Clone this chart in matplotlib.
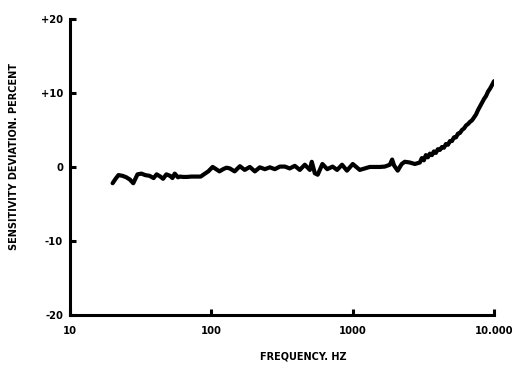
import matplotlib
matplotlib.use("Agg")
import matplotlib.pyplot as plt
import numpy as np

# Frequencia (Hz) e desvio de sensibilidade (%).
freq = [20, 21, 22, 23.5, 25, 26.5, 28, 30, 32, 34, 36.5, 39, 41, 43.5, 45.5,
        48, 51, 53, 55, 58, 60, 63, 67, 72, 78, 84, 90, 95, 102, 108, 114,
        121, 128, 135, 146, 159, 172, 187, 203, 220, 239, 259, 281, 305, 331,
        358, 389, 422, 458, 497, 513, 539, 565, 610, 660, 720, 775, 840, 910,
        1000, 1121, 1217, 1320, 1432, 1554, 1686, 1829, 1900, 1960, 2080,
        2220, 2336, 2535, 2750, 2983, 3082, 3185, 3291, 3400, 3513, 3630,
        3751, 3875, 4004, 4137, 4275, 4417, 4564, 4716, 4872, 5034, 5202,
        5375, 5553, 5738, 5929, 6126, 6330, 6540, 6758, 6982, 7215, 7454,
        7702, 7958, 8223, 8496, 8779, 9070, 9372, 9684, 10000]
deviation = [-2.2, -1.6, -1.1, -1.2, -1.4, -1.7, -2.2, -1.0, -0.9, -1.1, -1.2,
             -1.5, -1.0, -1.3, -1.6, -1.0, -1.2, -1.5, -0.9, -1.4, -1.3,
             -1.35, -1.35, -1.3, -1.3, -1.3, -0.9, -0.6, 0.0, -0.3, -0.6,
             -0.3, -0.1, -0.2, -0.6, 0.1, -0.4, 0.0, -0.6, -0.05, -0.3, -0.05,
             -0.3, 0.05, 0.05, -0.2, 0.15, -0.4, 0.3, -0.4, 0.7, -0.85, -1.05,
             0.4, -0.3, 0.05, -0.4, 0.3, -0.5, 0.4, -0.4, -0.2, 0.0, 0.0, 0.0,
             0.05, 0.3, 1.0, 0.2, -0.5, 0.4, 0.7, 0.6, 0.4, 0.6, 1.2, 0.9,
             1.6, 1.3, 1.8, 1.6, 2.1, 1.9, 2.4, 2.3, 2.7, 2.6, 3.1, 3.0, 3.5,
             3.5, 4.0, 4.0, 4.5, 4.6, 5.0, 5.2, 5.6, 5.8, 6.1, 6.3, 6.7, 7.1,
             7.7, 8.2, 8.7, 9.2, 9.6, 10.2, 10.6, 11.1, 11.6]

xticks = [10, 100, 1000, 10000]
xtick_labels = ["10", "100", "1000", "10.000"]
yticks = [-20, -10, 0, 10, 20]
ytick_labels = ["-20", "-10", "0", "+10", "+20"]

fig = plt.figure(figsize=(5.19, 3.79), dpi=100)
ax = fig.add_axes([0.135, 0.169, 0.817, 0.781])

ax.plot(freq, deviation, color="black", linewidth=3.0,
        solid_joinstyle="round", solid_capstyle="round")

ax.set_xscale("log")
ax.set_xlim(10, 10000)
ax.set_ylim(-20, 20)
ax.set_xticks(xticks)
ax.set_xticklabels(xtick_labels)
ax.set_yticks(yticks)
ax.set_yticklabels(ytick_labels)
ax.minorticks_off()

for s in ["top", "right"]:
    ax.spines[s].set_visible(False)
for s in ["left", "bottom"]:
    ax.spines[s].set_linewidth(2.2)

fonte = dict(family="DejaVu Sans", weight="bold", size=7)
ax.tick_params(direction="in", length=4, width=2.2, labelsize=7.2)
ax.tick_params(axis="y", pad=5)
ax.tick_params(axis="x", pad=8)
for lab in ax.get_xticklabels() + ax.get_yticklabels():
    lab.set_fontweight("bold")

ax.set_xlabel("FREQUENCY. HZ", **fonte)
ax.xaxis.set_label_coords(0.55, -0.125)
ax.set_ylabel("SENSITIVITY DEVIATION. PERCENT", **fonte)
ax.yaxis.set_label_coords(-0.12, 0.534)

fig.savefig("out.png", dpi=100)
